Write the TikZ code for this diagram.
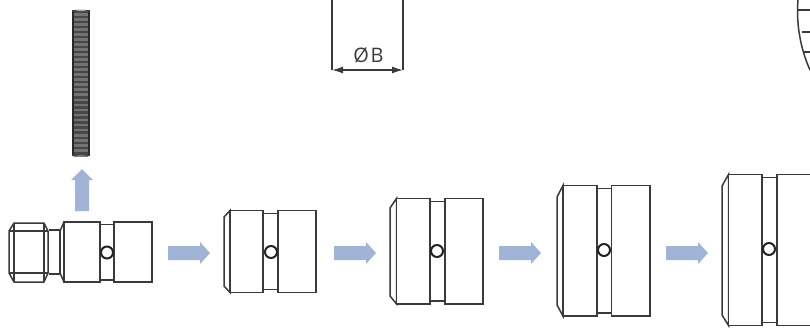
\documentclass[tikz,border=0pt]{standalone}
\usepackage{fontspec}
\usetikzlibrary{arrows.meta}
\setmainfont{Open Sans}
\definecolor{ink}{HTML}{3A3A3A}
\definecolor{flow}{HTML}{9FB4D6}
\tikzset{
  part/.style={draw=ink,line width=1.5pt,line join=miter,fill=white},
  thin part/.style={draw=ink,line width=1.5pt},
  hole/.style={draw=ink!60!black,line width=2pt,fill=white},
  flowarrow/.style={fill=flow,draw=none},
  dimline/.style={draw=ink,line width=1.4pt},
}
% #1 chamfer x, #2 block left, #3 block right, #4 groove right, #5 right end,
% #6 top, #7 bottom, #8 chamfer top y, #9 chamfer bottom y
\newcommand{\stagepart}[9]{
  \draw[thin part] (#1,#8) -- (#2,#6) -- (#2,#7) -- (#1,#9) -- cycle;
  \draw[thin part] (#3,#6+3) -- (#4,#6+3) (#3,#7-3) -- (#4,#7-3);
  \draw[part] (#2,#6) rectangle (#3,#7);
  \draw[part] (#4,#6) rectangle (#5,#7);
}
\newcommand{\flowright}[2]{
  \fill[flowarrow] (#1,#2-7) -- (#1+32,#2-7) -- (#1+32,#2-11) -- (#1+42,#2) -- (#1+32,#2+11) -- (#1+32,#2+7) -- (#1,#2+7) -- cycle;
}
\begin{document}
\begin{tikzpicture}[x=1pt,y=-1pt]
\useasboundingbox (0,0) rectangle (810,327);
\begin{scope}
\clip (0,0) rectangle (810,327);

% threaded rod
\fill[black!72] (72,10) rectangle (90,156);
\foreach \i in {0,...,28} {
  \fill[black!55] (74,{13+\i*5.03}) rectangle (88,{15.8+\i*5.03});
}
\draw[ink!70!black,line width=1.6pt] (72.8,10) -- (72.8,156) (89.2,10) -- (89.2,156);
\fill[black!72] (72,10) arc[x radius=9,y radius=2.8,start angle=180,end angle=0] -- cycle;
\fill[black!35] (75,9.5) arc[x radius=6,y radius=1.6,start angle=180,end angle=0] -- cycle;
\fill[black!72] (72,156) arc[x radius=9,y radius=2.8,start angle=180,end angle=360] -- cycle;
\fill[black!45] (75,156.5) arc[x radius=6,y radius=1.2,start angle=180,end angle=360] -- cycle;

% up arrow
\fill[flowarrow] (75,211) -- (75,180) -- (71,180) -- (82,169) -- (93,180) -- (89,180) -- (89,211) -- cycle;

% dimension
\coordinate (dimL) at (332,70);
\coordinate (dimR) at (403,70);
\draw[dimline] (332,0) -- (dimL);
\draw[dimline] (403,0) -- (dimR);
\draw[dimline,<->,>={Latex[length=11pt,width=7pt]}] (dimL) -- (dimR);
\node[font=\fontsize{20}{20}\selectfont,text=ink,inner sep=0pt] (dimtext) at (368.5,55.5) {Ø\kern1.5pt B};

% top right fragment
\draw[thin part] (798,0) .. controls (796,22) and (800,48) .. (810,70);
\draw[thin part] (798,10) -- (810,10) (802,32) -- (810,32) (803,52) -- (810,52);

% first part: hex nut and neck
\draw[thin part,line join=round] (9,231) -- (14,223) -- (44,223) -- (48,231) -- (48,273) -- (44,282) -- (14,282) -- (9,273) -- cycle;
\draw[thin part] (14,223) -- (14,282) (44,223) -- (44,282) (9,231) -- (48,231) (9,273) -- (48,273);
\draw[thin part] (49,230) -- (60,230) (49,274) -- (60,274) (60,230) -- (60,274);
\draw[thin part] (60,231) -- (64,222) (60,273) -- (64,282);
\draw[thin part] (100,224.5) -- (114,224.5) (100,280) -- (114,280);
\draw[part] (64,222) rectangle (100,282);
\draw[part] (114,222) rectangle (152,282);
\draw[hole] (107,252.5) circle[radius=6];
\flowright{168}{253}

% later stages
\stagepart{224}{230}{263}{278}{316}{210.5}{292.5}{217}{286}
\draw[hole] (271,252) circle[radius=6];
\flowright{334}{253}

\stagepart{390}{396.5}{430}{445}{483}{198.5}{304}{208}{296}
\draw[hole] (437,251) circle[radius=6];
\flowright{499}{253}

\stagepart{557}{563}{597}{611.5}{650}{185.5}{316}{197}{305}
\draw[hole] (604,250) circle[radius=6];
\flowright{666}{253}

\stagepart{722}{728.5}{762}{777}{815}{174.5}{325.5}{186}{315}
\draw[hole] (769,249) circle[radius=6];
\end{scope}
\end{tikzpicture}
\end{document}
